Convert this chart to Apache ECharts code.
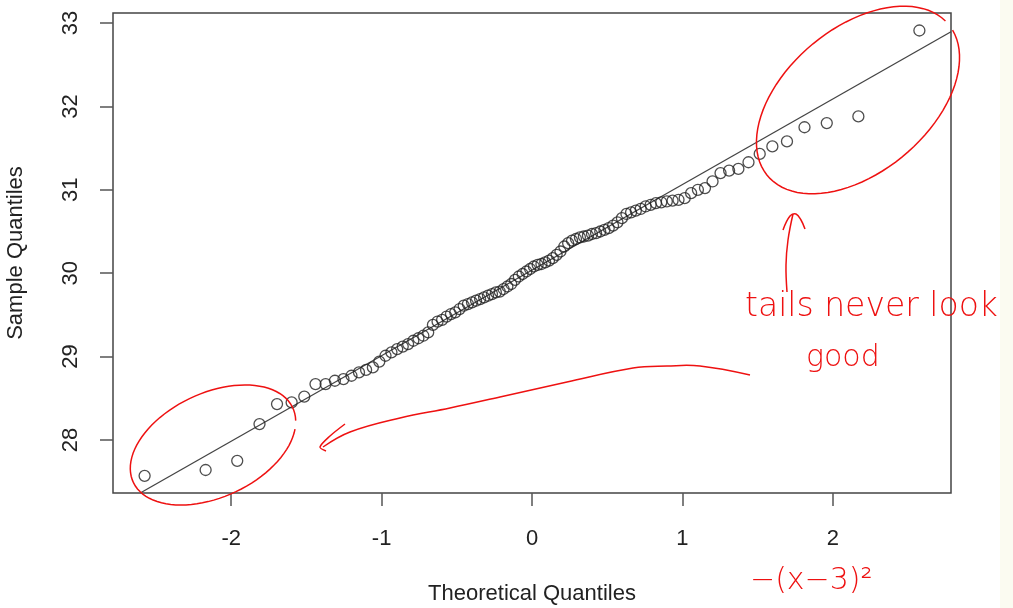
<!DOCTYPE html>
<html>
<head>
<meta charset="utf-8">
<script src="https://cdn.jsdelivr.net/npm/echarts@6/dist/echarts.min.js"></script>
<style>
  html, body { margin: 0; padding: 0; background: #fff; }
  #chart { width: 1013px; height: 608px; }
</style>
</head>
<body>
<div id="chart"></div>
<script>
// theoretical normal quantiles, n = 100
const theoQ = [
  -2.5758, -2.1701, -1.9600, -1.8119, -1.6954, -1.5982, -1.5141, -1.4395, -1.3722, -1.3106,
  -1.2536, -1.2004, -1.1503, -1.1031, -1.0581, -1.0152, -0.9741, -0.9346, -0.8965, -0.8596,
  -0.8239, -0.7892, -0.7554, -0.7225, -0.6903, -0.6588, -0.6280, -0.5978, -0.5681, -0.5388,
  -0.5101, -0.4817, -0.4538, -0.4261, -0.3989, -0.3719, -0.3451, -0.3186, -0.2924, -0.2663,
  -0.2404, -0.2147, -0.1891, -0.1637, -0.1383, -0.1130, -0.0878, -0.0627, -0.0376, -0.0125,
  0.0125, 0.0376, 0.0627, 0.0878, 0.1130, 0.1383, 0.1637, 0.1891, 0.2147, 0.2404,
  0.2663, 0.2924, 0.3186, 0.3451, 0.3719, 0.3989, 0.4261, 0.4538, 0.4817, 0.5101,
  0.5388, 0.5681, 0.5978, 0.6280, 0.6588, 0.6903, 0.7225, 0.7554, 0.7892, 0.8239,
  0.8596, 0.8965, 0.9346, 0.9741, 1.0152, 1.0581, 1.1031, 1.1503, 1.2004, 1.2536,
  1.3106, 1.3722, 1.4395, 1.5141, 1.5982, 1.6954, 1.8119, 1.9600, 2.1701, 2.5758
];

// sample quantiles
const sampleQ = [
  27.57, 27.64, 27.75, 28.19, 28.43, 28.45, 28.52, 28.67, 28.67, 28.71,
  28.73, 28.77, 28.81, 28.84, 28.87, 28.94, 29.01, 29.05, 29.09, 29.12,
  29.15, 29.19, 29.22, 29.25, 29.29, 29.38, 29.42, 29.44, 29.48, 29.51,
  29.53, 29.57, 29.61, 29.63, 29.65, 29.67, 29.69, 29.71, 29.73, 29.75,
  29.77, 29.78, 29.81, 29.84, 29.87, 29.92, 29.96, 29.99, 30.02, 30.05,
  30.08, 30.10, 30.11, 30.13, 30.15, 30.18, 30.22, 30.26, 30.32, 30.36,
  30.39, 30.41, 30.43, 30.44, 30.45, 30.47, 30.48, 30.50, 30.52, 30.54,
  30.57, 30.61, 30.66, 30.71, 30.73, 30.75, 30.77, 30.80, 30.82, 30.84,
  30.85, 30.86, 30.87, 30.88, 30.90, 30.96, 31.00, 31.02, 31.10, 31.20,
  31.23, 31.25, 31.33, 31.43, 31.52, 31.58, 31.75, 31.80, 31.88, 32.91
];

// qqline end points
const lineX = [-2.605, 2.786];
const lineY = [27.364, 32.895];

const xTicks = [-2, -1, 0, 1, 2];
const yTicks = [28, 29, 30, 31, 32, 33];

const points = theoQ.map((q, i) => [q, sampleQ[i]]);
const qqline = lineX.map((x, i) => [x, lineY[i]]);

// hand-drawn loop helper for the red annotations
const loop = (cx, cy, a, b, deg, t0, t1) => {
  const th = deg * Math.PI / 180;
  const u = [Math.cos(th), -Math.sin(th)];
  const v = [Math.sin(th), Math.cos(th)];
  const pts = [];
  for (let k = 0; k <= 90; k++) {
    const t = t0 + (t1 - t0) * k / 90;
    pts.push([cx + a * Math.cos(t) * u[0] + b * Math.sin(t) * v[0],
              cy + a * Math.cos(t) * u[1] + b * Math.sin(t) * v[1]]);
  }
  return pts;
};

const red = '#ee1111';
const font = 'Liberation Sans, Arial, sans-serif';
const hand = { fill: red, fontFamily: 'DejaVu Sans', fontWeight: 200, fontSize: 33 };

const chart = echarts.init(document.getElementById('chart'), null, { renderer: 'canvas' });

chart.setOption({
  animation: false,
  backgroundColor: '#ffffff',
  grid: {
    left: 113, top: 13, right: 62, bottom: 115,
    outerBoundsMode: 'none',
    containLabel: false,
    show: true, borderColor: '#444', borderWidth: 1.5, backgroundColor: 'transparent'
  },
  xAxis: {
    type: 'value',
    min: -2.786, max: 2.786,
    name: 'Theoretical Quantiles',
    nameLocation: 'middle',
    nameGap: 90,
    nameTextStyle: { fontFamily: font, fontSize: 22, color: '#222' },
    axisLine: { show: false, onZero: false },
    axisTick: { show: true, customValues: xTicks, length: 13, lineStyle: { color: '#555', width: 1.5 } },
    axisLabel: { customValues: xTicks, margin: 35, fontFamily: font, fontSize: 22, color: '#222' },
    splitLine: { show: false }
  },
  yAxis: {
    type: 'value',
    min: 27.364, max: 33.12,
    name: 'Sample Quantiles',
    nameLocation: 'middle',
    nameGap: 86,
    nameRotate: 90,
    nameTextStyle: { fontFamily: font, fontSize: 22, color: '#222' },
    axisLine: { show: false, onZero: false },
    axisTick: { show: true, customValues: yTicks, length: 13, lineStyle: { color: '#555', width: 1.5 } },
    axisLabel: { customValues: yTicks, rotate: 90, margin: 31, fontFamily: font, fontSize: 22, color: '#222' },
    splitLine: { show: false }
  },
  series: [
    {
      type: 'line',
      data: qqline,
      symbol: 'none',
      lineStyle: { color: '#444', width: 1.3 },
      z: 2
    },
    {
      type: 'scatter',
      data: points,
      symbol: 'circle',
      symbolSize: 11,
      itemStyle: { color: 'rgba(255,255,255,0)', borderColor: '#222', borderWidth: 1.3 },
      z: 3
    }
  ],
  graphic: [
    { type: 'rect', shape: { x: 1000, y: 0, width: 13, height: 608 }, style: { fill: '#fbfbf1' }, z: 0 },
    // upper-right loop
    { type: 'polyline', shape: { points: loop(858, 100, 118, 72, 40, 0.1, 2 * Math.PI - 0.06) },
      style: { stroke: red, fill: null, lineWidth: 1.5 }, z: 100 },
    // lower-left loop
    { type: 'polyline', shape: { points: loop(213, 445, 88, 52, 25, 0.4, 2 * Math.PI + 0.25) },
      style: { stroke: red, fill: null, lineWidth: 1.5 }, z: 100 },
    // upward arrow
    { type: 'polyline', shape: { points: [[787, 292], [786, 265], [788, 240], [793, 214]], smooth: 0.4 },
      style: { stroke: red, fill: null, lineWidth: 1.5 }, z: 100 },
    { type: 'polyline', shape: { points: [[783, 230], [790, 216], [796, 214], [801, 220], [805, 229]], smooth: 0.4 },
      style: { stroke: red, fill: null, lineWidth: 1.5 }, z: 100 },
    // long leftward arrow
    { type: 'polyline', shape: { points: [[750, 375], [700, 366], [667, 366], [633, 368], [567, 382], [500, 397], [450, 408], [400, 418], [350, 432], [323, 447]], smooth: 0.4 },
      style: { stroke: red, fill: null, lineWidth: 1.5 }, z: 100 },
    { type: 'polyline', shape: { points: [[345, 424], [330, 436], [320, 447], [326, 451]], smooth: 0.3 },
      style: { stroke: red, fill: null, lineWidth: 1.5 }, z: 100 },
    // handwritten notes
    { type: 'text', left: 745, top: 291, style: Object.assign({ text: 'tails never look' }, hand), z: 100 },
    { type: 'text', left: 806, top: 343, style: Object.assign({}, hand, { text: 'good', fontSize: 30 }), z: 100 },
    { type: 'text', left: 750, top: 566, style: Object.assign({}, hand, { text: '\u2212(x\u22123)\u00b2', fontSize: 30 }), z: 100 }
  ]
});
</script>
</body>
</html>
